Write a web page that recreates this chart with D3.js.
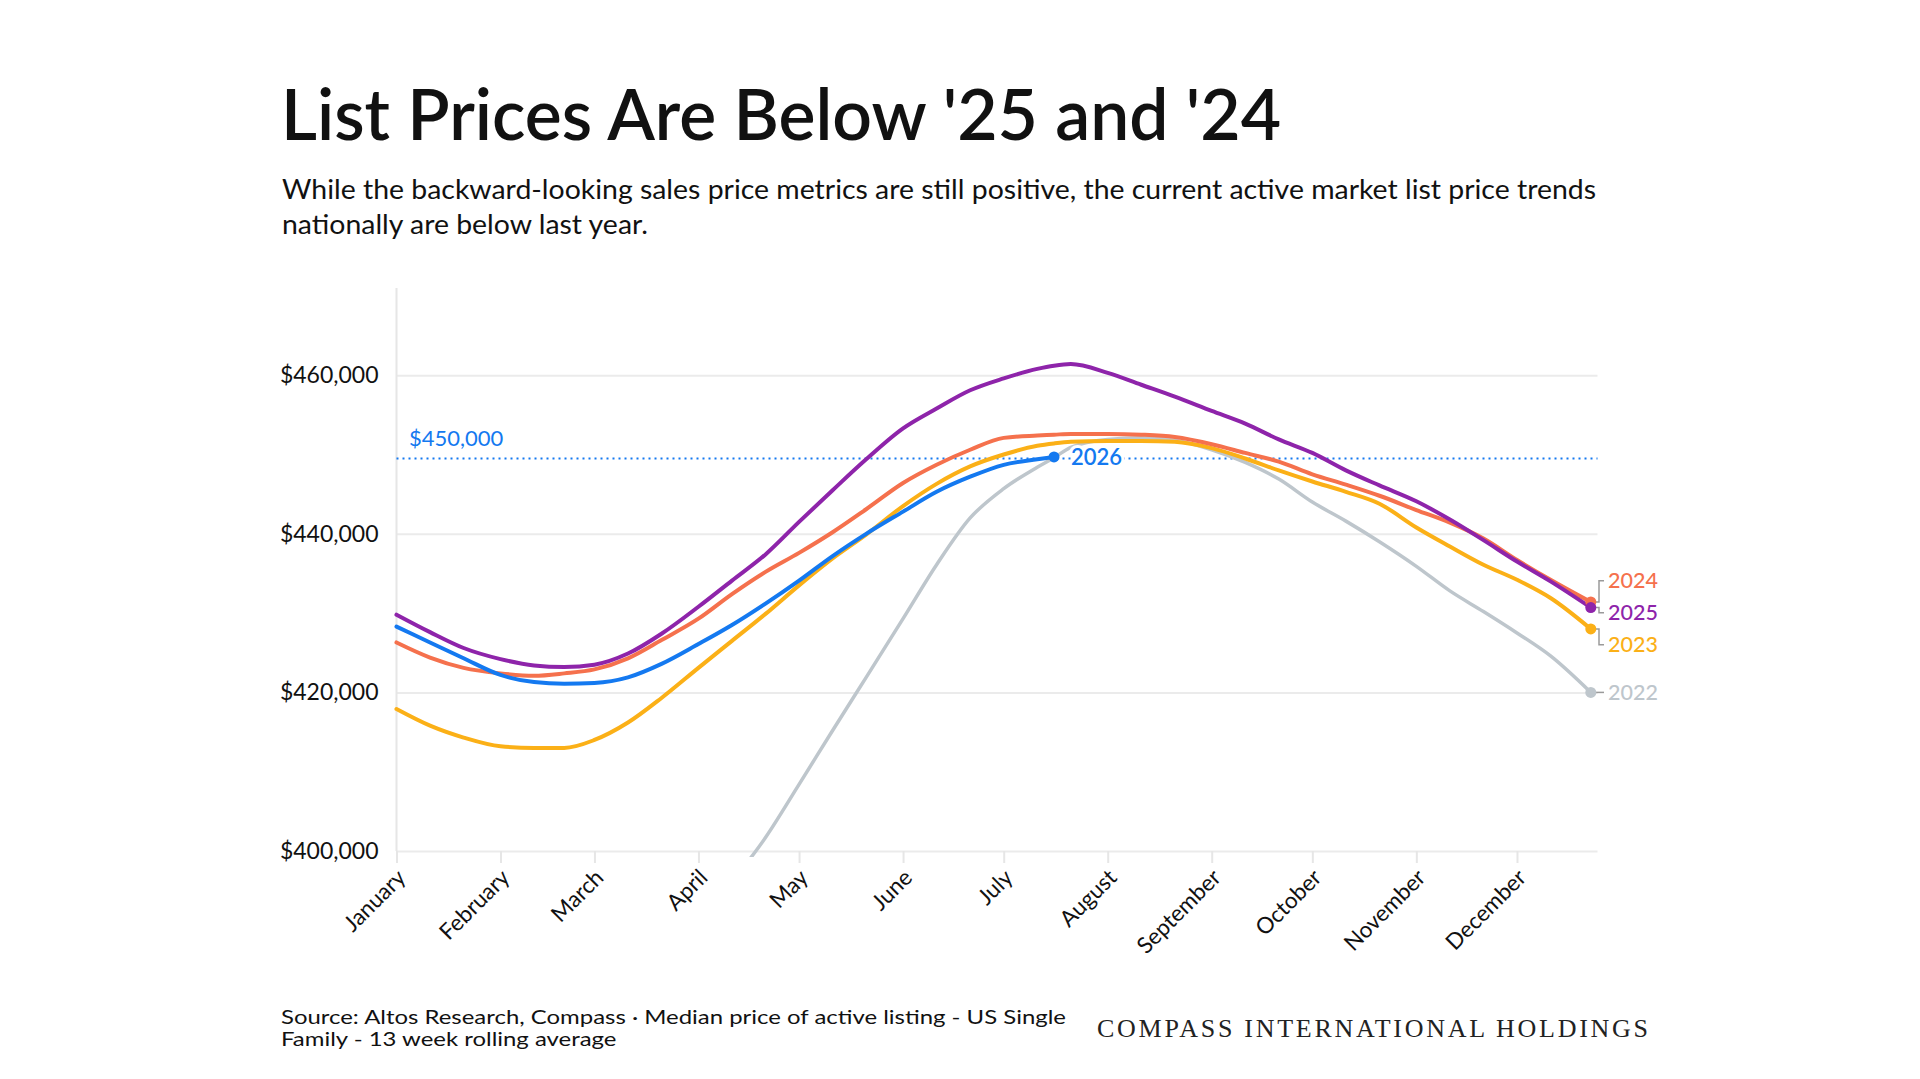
<!DOCTYPE html>
<html><head><meta charset="utf-8">
<script src="https://cdn.jsdelivr.net/npm/d3@7"></script>
<style>
html,body{margin:0;padding:0;background:#fff;}
svg{display:block;}
</style></head>
<body>
<svg id="chart" width="1920" height="1079"></svg>
<script>
// ---------------- DATA (values in $ thousands) ----------------
const dates = ["01-01","01-11","01-21","02-01","02-11","02-20","03-01","03-11","03-21","04-01","04-11","04-21",
  "05-01","05-11","05-21","06-01","06-11","06-21","07-01","07-11","07-16","07-21","08-01","08-11","08-21",
  "09-01","09-11","09-21","10-01","10-11","10-21","11-01","11-11","11-21","12-01","12-11","12-23"];
const values2022 = [null,null,null,null,null,null,null,null,null,null,396.1,401.7,
  408.4,415.2,421.9,429.3,436.1,442.0,445.7,448.4,449.6,450.9,451.9,452.1,451.8,
  450.6,449.0,446.9,444.0,441.6,439.0,435.9,432.8,430.2,427.5,424.6,420.0];
const values2023 = [417.9,415.8,414.3,413.2,413.0,413.0,414.0,416.2,419.3,423.1,426.5,429.9,
  433.5,436.9,439.9,443.5,446.3,448.5,450.0,451.1,451.4,451.6,451.7,451.7,451.6,
  450.8,449.5,448.0,446.6,445.3,443.8,440.8,438.4,436.1,434.2,431.9,428.0];
const values2024 = [426.3,424.4,423.1,422.4,422.1,422.4,422.9,424.3,426.6,429.3,432.4,435.2,
  437.6,440.2,443.1,446.4,448.7,450.6,452.1,452.4,452.5,452.6,452.6,452.5,452.2,
  451.3,450.2,449.1,447.5,446.2,444.8,443.0,441.4,439.4,436.7,434.2,431.4];
const values2025 = [429.8,427.6,425.6,424.2,423.4,423.2,423.5,424.9,427.4,430.8,434.1,437.4,
  441.5,445.5,449.4,453.3,455.8,458.1,459.6,460.8,461.2,461.4,460.3,458.8,457.3,
  455.5,453.9,451.9,450.2,448.0,446.1,444.1,441.8,439.2,436.5,434.0,430.7];
const values2026 = [428.3,426.3,424.3,422.2,421.3,421.1,421.2,421.9,423.6,426.1,428.5,431.2,
  434.1,437.2,440.0,442.8,445.3,447.2,448.7,449.4,449.7,null,null,null,null,
  null,null,null,null,null,null,null,null,null,null,null,null];
const seriesNames = ["2022","2023","2024","2025","2026"];
const seriesColors = ["#bec6cc","#fbb017","#f5714d","#8e24aa","#1479f0"];
const yTicks = [400, 420, 440, 460];
const monthLabels = ["January","February","March","April","May","June","July","August","September","October","November","December"];
const refValue = 449.5;
const refLabel = "$450,000";
const titleText = "List Prices Are Below '25 and '24";
const subtitleLines = ["While the backward-looking sales price metrics are still positive, the current active market list price trends",
  "nationally are below last year."];
const sourceLines = ["Source: Altos Research, Compass \u00b7 Median price of active listing - US Single",
  "Family - 13 week rolling average"];
const brandText = "COMPASS INTERNATIONAL HOLDINGS";

// ---------------- SETUP ----------------
const svg = d3.select("#chart");
const FONT = "Lato, 'Noto Sans', sans-serif";
const parse = s => new Date(2025, +s.slice(0,2)-1, +s.slice(3,5));
const pLeft = 396.5, pRight = 1597.5, pTop = 288, pBottom = 851;

const x = d3.scaleTime().domain([new Date(2025,0,1), new Date(2025,11,25)]).range([pLeft, pRight]);
const y = d3.scaleLinear().domain([400, 471]).range([pBottom, pTop]);

// Multi-line text block: first line fitted to a target width, the rest share its compression
function textBlock(lines, x0, y0, lh, size, weight, firstWidth) {
  const nodes = lines.map((t, i) => svg.append("text").attr("x", x0).attr("y", y0 + i*lh).text(t)
    .attr("font-family", FONT).attr("font-size", size).attr("font-weight", weight).attr("fill", "#111"));
  const ratio = firstWidth / nodes[0].node().getComputedTextLength();
  nodes.forEach(n => {
    const w = n.node().getComputedTextLength() * ratio;
    n.attr("textLength", w).attr("lengthAdjust", "spacingAndGlyphs");
  });
}

// Title & subtitle
textBlock([titleText], 281, 140, 0, 72, 600, 1000);
textBlock(subtitleLines, 282, 199, 35, 26, 400, 1314);

// Gridlines
const grid = svg.append("g").attr("transform", `translate(${pLeft},0)`)
  .call(d3.axisLeft(y).tickValues(yTicks).tickSize(-(pRight-pLeft)).tickFormat(""));
grid.select(".domain").remove();
grid.selectAll("line").attr("stroke", "#ebebeb").attr("stroke-width", 2);

// Y axis vertical line
svg.append("line").attr("x1", pLeft).attr("x2", pLeft).attr("y1", y(471)).attr("y2", y(400))
  .attr("stroke", "#e6e6e6").attr("stroke-width", 2);

// Y labels
const yAxis = svg.append("g").attr("transform", `translate(${pLeft},0)`)
  .call(d3.axisLeft(y).tickValues(yTicks).tickSize(0).tickPadding(18)
    .tickFormat(d => "$" + d3.format(",")(d*1000)));
yAxis.select(".domain").remove();
yAxis.selectAll("text").attr("font-family", FONT).attr("font-size", 23).attr("fill", "#111");

// X axis
const monthStarts = d3.range(12).map(m => new Date(2025, m, 1));
const xAxis = svg.append("g").attr("transform", `translate(0,${pBottom})`)
  .call(d3.axisBottom(x).tickValues(monthStarts).tickSize(12).tickPadding(0)
    .tickFormat((d, i) => monthLabels[i]));
xAxis.select(".domain").remove();
xAxis.selectAll("line").attr("stroke", "#e6e6e6").attr("stroke-width", 2);
xAxis.selectAll("text")
  .attr("font-family", FONT).attr("font-size", 22.5).attr("fill", "#111")
  .attr("text-anchor", "end").attr("dy", null).attr("y", null)
  .attr("transform", "translate(10,28) rotate(-45)");

// Reference line
svg.append("line").attr("x1", pLeft).attr("x2", pRight).attr("y1", y(refValue)).attr("y2", y(refValue))
  .attr("stroke", seriesColors[4]).attr("stroke-width", 2).attr("stroke-dasharray", "2,4");
svg.append("text").attr("x", 409).attr("y", y(refValue) - 12).text(refLabel)
  .attr("font-family", FONT).attr("font-size", 22).attr("fill", seriesColors[4]);

// Lines
const allSeries = [values2022, values2023, values2024, values2025, values2026].map((vals, i) => ({
  name: seriesNames[i], color: seriesColors[i],
  pts: dates.map((d, j) => ({date: parse(d), v: vals[j]}))
}));
svg.append("clipPath").attr("id", "plotclip").append("rect")
  .attr("x", pLeft - 5).attr("y", pTop - 10).attr("width", pRight - pLeft + 20).attr("height", pBottom - pTop + 16);
const line = d3.line().defined(d => d.v != null).x(d => x(d.date)).y(d => y(d.v)).curve(d3.curveMonotoneX);
const lg = svg.append("g").attr("clip-path", "url(#plotclip)");
allSeries.forEach(s => {
  lg.append("path").attr("d", line(s.pts)).attr("fill", "none")
    .attr("stroke", s.color).attr("stroke-width", s.name === "2022" ? 3.5 : 4)
    .attr("stroke-linejoin", "round").attr("stroke-linecap", "round");
});

// End points
const ends = allSeries.map(s => {
  const valid = s.pts.filter(p => p.v != null);
  const last = valid[valid.length - 1];
  return {name: s.name, color: s.color, px: x(last.date), py: y(last.v)};
});
// 2026 label
const e26 = ends[4];
svg.append("text").attr("x", e26.px + 17).attr("y", e26.py).attr("dy", "0.35em").text("2026")
  .attr("font-family", FONT).attr("font-size", 22).attr("font-weight", 600).attr("fill", e26.color)
  .attr("stroke", "#fff").attr("stroke-width", 6).attr("paint-order", "stroke");

// Right-side labels with collision spacing
const rightEnds = ends.slice(0, 4).sort((a, b) => a.py - b.py);
const gap = 32;
let groups = rightEnds.map(e => ({items: [e], center: e.py}));
let changed = true;
while (changed) {
  changed = false;
  for (let i = 0; i < groups.length - 1; i++) {
    const a = groups[i], b = groups[i+1];
    const aBottom = a.center + (a.items.length - 1) * gap / 2;
    const bTop = b.center - (b.items.length - 1) * gap / 2;
    if (bTop - aBottom < gap) {
      const items = a.items.concat(b.items);
      groups.splice(i, 2, {items, center: d3.mean(items, e => e.py)});
      changed = true; break;
    }
  }
}
groups.forEach(g => g.items.forEach((e, k) => { e.ly = g.center + (k - (g.items.length - 1) / 2) * gap; }));
const bx = 1599;
rightEnds.forEach(e => {
  svg.append("path").attr("d", `M${e.px + 5},${e.py}H${bx}V${e.ly}H${bx + 5}`)
    .attr("fill", "none").attr("stroke", "#9a9a9a").attr("stroke-width", 1.5);
});
ends.forEach(e => {
  svg.append("circle").attr("cx", e.px).attr("cy", e.py).attr("r", 5.5).attr("fill", e.color);
});
rightEnds.forEach(e => {
  svg.append("text").attr("x", 1608).attr("y", e.ly).attr("dy", "0.35em").text(e.name)
    .attr("font-family", FONT).attr("font-size", 21.5).attr("font-weight", 500).attr("fill", e.color);
});

// Footer
textBlock(sourceLines, 281, 1024, 22, 20, 400, 785);
svg.append("text").attr("x", 1097).attr("y", 1037).text(brandText)
  .attr("font-family", "'Liberation Serif', 'DejaVu Serif', serif").attr("font-size", 26).attr("fill", "#222")
  .attr("textLength", 551).attr("lengthAdjust", "spacing");
</script>
</body></html>
